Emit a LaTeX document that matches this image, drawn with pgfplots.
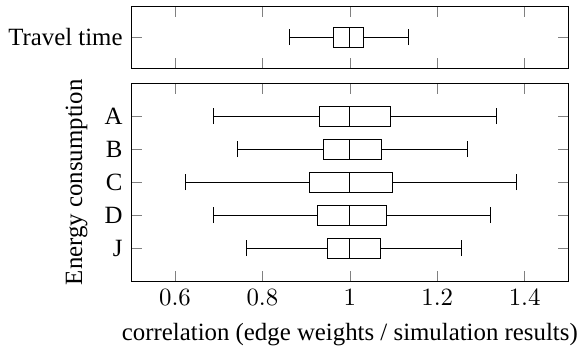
\documentclass[border=0pt]{standalone}
\usepackage{fontspec}
\setmainfont{Liberation Serif}
\usepackage{pgfplots}
\pgfplotsset{compat=1.18}
\usepgfplotslibrary{statistics}
\begin{document}
\begin{tikzpicture}
\begin{axis}[
  name=top,
  scale only axis,
  width=176pt, height=25pt,
  xmin=0.5, xmax=1.5,
  ymin=0, ymax=2,
  xtick={0.6,0.8,1,1.2,1.4},
  xticklabels={},
  ytick={1},
  yticklabels={Travel time},
]
\addplot[black, boxplot prepared={lower whisker=0.862, lower quartile=0.963, median=1.0, upper quartile=1.032, upper whisker=1.134, draw position=1, box extend=0.64}] coordinates {};
\end{axis}
\path (top.north west) ++(0,2.5pt) coordinate (topmargin);
\begin{axis}[
  at={(top.south west)}, anchor=north west, yshift=-5.95pt,
  scale only axis,
  width=176pt, height=79.8pt,
  xmin=0.5, xmax=1.5,
  ymin=0, ymax=6,
  xtick={0.6,0.8,1,1.2,1.4},
  ytick={1,2,3,4,5},
  yticklabels={J,D,C,B,A},
  ylabel={Energy consumption},
  xlabel={correlation (edge weights / simulation results)},
]
\addplot[black, boxplot prepared={lower whisker=0.689, lower quartile=0.930, median=1.0, upper quartile=1.092, upper whisker=1.335, draw position=5, box extend=0.6}] coordinates {};
\addplot[black, boxplot prepared={lower whisker=0.744, lower quartile=0.940, median=1.0, upper quartile=1.072, upper whisker=1.269, draw position=4, box extend=0.6}] coordinates {};
\addplot[black, boxplot prepared={lower whisker=0.624, lower quartile=0.907, median=1.0, upper quartile=1.097, upper whisker=1.382, draw position=3, box extend=0.6}] coordinates {};
\addplot[black, boxplot prepared={lower whisker=0.689, lower quartile=0.925, median=1.0, upper quartile=1.084, upper whisker=1.322, draw position=2, box extend=0.6}] coordinates {};
\addplot[black, boxplot prepared={lower whisker=0.763, lower quartile=0.948, median=1.0, upper quartile=1.070, upper whisker=1.255, draw position=1, box extend=0.6}] coordinates {};
\end{axis}
\end{tikzpicture}
\end{document}
